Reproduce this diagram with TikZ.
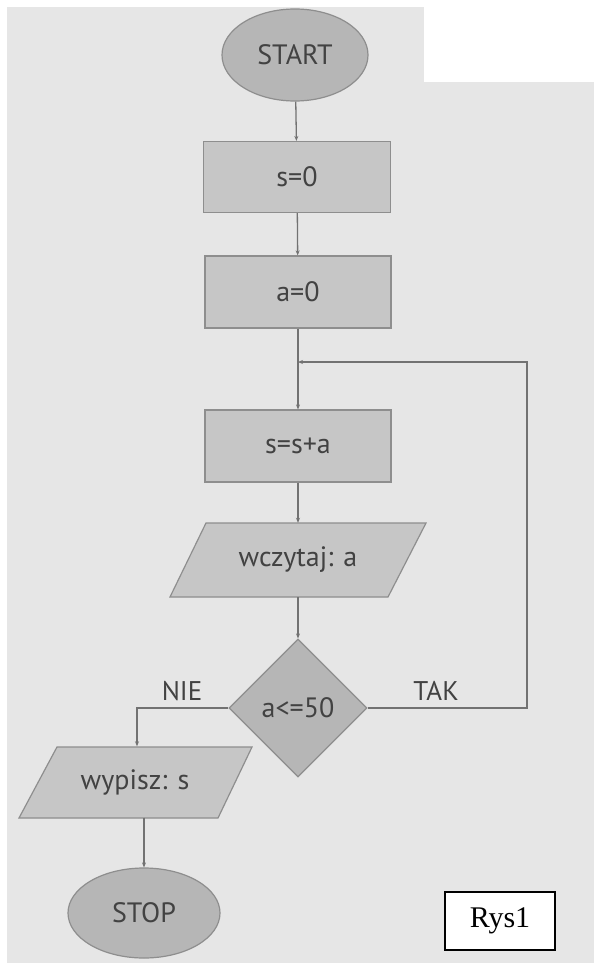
\documentclass[tikz,border=0pt]{standalone}
\usepackage{fontspec}
\setmainfont{PT Sans}
\newfontfamily\capfont{Liberation Serif}
\usetikzlibrary{shapes.geometric,arrows.meta}
\definecolor{paper}{HTML}{E6E6E6}
\definecolor{boxfill}{HTML}{C6C6C6}
\definecolor{ovalfill}{HTML}{B6B6B6}
\definecolor{edge}{HTML}{8E8E8E}
\definecolor{ink}{HTML}{424242}
\definecolor{wire}{HTML}{727272}
\tikzset{
  every node/.style={text=ink, font=\fontsize{28}{32}\selectfont},
  term/.style={ellipse, draw=edge, fill=ovalfill, line width=1.2pt, inner sep=0pt},
  proc/.style={rectangle, draw=edge, fill=boxfill, line width=1.2pt, inner sep=0pt},
  iobox/.style={draw=edge, fill=boxfill, line width=1.2pt},
  iotext/.style={rectangle, inner sep=0pt},
  decide/.style={diamond, draw=edge, fill=ovalfill, line width=1.2pt, inner sep=0pt},
  arr/.style={draw=wire, line width=1.3pt, -{Stealth[length=5pt,width=4pt]}},
  wire/.style={draw=wire, line width=1.3pt},
  lbl/.style={font=\fontsize{27}{30}\selectfont}
}
\begin{document}
\begin{tikzpicture}[x=1pt,y=-1pt]
  \useasboundingbox (0,0) rectangle (594,963);
  % scanned page background with the blank corner at the top right
  \fill[white] (0,0) rectangle (594,963);
  \fill[paper] (7,7) rectangle (594,963);
  \fill[white] (424,0) rectangle (594,82);

  % input/output parallelograms, drawn under their text nodes
  \draw[iobox] (206,523) -- (426,523) -- (388,597) -- (170,597) -- cycle;
  \draw[iobox] (57,747) -- (252,747) -- (218,818) -- (19,818) -- cycle;

  % flowchart blocks
  \node[term, minimum width=146pt, minimum height=92pt] (start) at (295,55) {START};
  \node[proc, minimum width=187pt, minimum height=71pt] (s0) at (297,177) {s=0};
  \node[proc, minimum width=186pt, minimum height=72pt] (a0) at (298,292) {a=0};
  \coordinate (join) at (298,362);
  \node[proc, minimum width=186pt, minimum height=72pt] (ssa) at (298,446) {s=s+a};
  \node[iotext, minimum width=200pt, minimum height=74pt] (read) at (298,560) {wczytaj: a};
  \node[decide, minimum width=138pt, minimum height=138pt] (test) at (298,708) {a<=50};
  \node[iotext, minimum width=180pt, minimum height=71pt] (write) at (135,782) {wypisz: s};
  \node[term, minimum width=152pt, minimum height=90pt] (stop) at (144,913) {STOP};
  \coordinate (loopr) at (527,708);
  \coordinate (nieturn) at (137,708);

  % connectors
  \draw[arr] (start) -- (s0);
  \draw[arr] (s0) -- (a0);
  \draw[wire] (a0) -- (join);
  \draw[arr] (join) -- (ssa);
  \draw[arr] (ssa) -- (read.north -| ssa);
  \draw[arr] (read.south -| test) -- (test);
  \draw[arr] (test.east) -- (loopr) |- (join);
  \draw[arr] (test.west) -- (nieturn) -- (nieturn |- write.north);
  \draw[arr] (stop.north |- write.south) -- (stop);

  % branch labels
  \node[lbl] (nie) at (182,691) {NIE};
  \node[lbl] (tak) at (436,691) {TAK};

  % figure caption
  \node[draw=black, fill=white, line width=1.4pt, text=black, minimum width=110pt,
    minimum height=58pt, font=\capfont\fontsize{30}{34}\selectfont] (rys) at (500,921) {Rys1};
\end{tikzpicture}
\end{document}
